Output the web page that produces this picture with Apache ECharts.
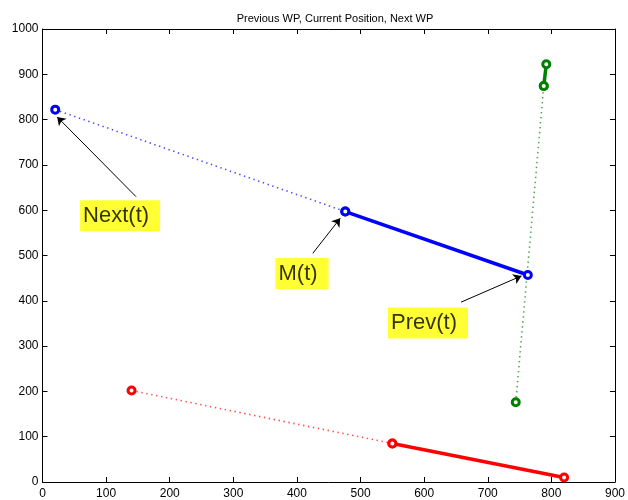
<!DOCTYPE html>
<html><head><meta charset="utf-8">
<script src="https://cdn.jsdelivr.net/npm/echarts@6/dist/echarts.min.js"></script>
<style>html,body{margin:0;padding:0;background:#fff}#c{width:628px;height:500px}</style>
</head><body><div id="c"></div>
<script>
// Points ordered [next, current, previous]
const bluePts = [[20, 822], [476, 597], [763, 457]];
const redPts = [[140, 202], [550, 85], [820, 10]];
const greenPts = [[744, 176], [788, 874], [792, 922]];
// annotations
const arrowFrom = [[147, 630], [425, 505], [658, 397]];
const arrowTo = [[23, 806], [468, 582], [753, 455]];
const labelText = ['Next(t)', 'M(t)', 'Prev(t)'];
const labelAt = [[122, 588], [408, 460], [606, 351]];
const titleText = 'Previous WP, Current Position, Next WP';

const FONT = 'Liberation Sans, Arial, sans-serif';
const chart = echarts.init(document.getElementById('c'), null, {renderer: 'canvas'});

function pairSeries(pts, color) {
  const marker = {symbol: 'circle', symbolSize: 7, itemStyle: {color: '#fff', borderColor: color, borderWidth: 3}};
  return [
    Object.assign({type: 'line', data: [pts[0], pts[1]], lineStyle: {color: color, width: 1.6, type: [1.4, 3.6], opacity: 0.7}, z: 3, animation: false}, marker),
    Object.assign({type: 'line', data: [pts[1], pts[2]], lineStyle: {color: color, width: 3.5}, z: 4, animation: false}, marker)
  ];
}

const axisCommon = {
  min: 0, interval: 100,
  axisLine: {show: true, onZero: false, lineStyle: {color: '#000', width: 1}},
  axisTick: {show: true, inside: true, length: 5, lineStyle: {color: '#000'}},
  splitLine: {show: false},
  axisLabel: {color: '#000', fontSize: 12, fontFamily: FONT, formatter: (v) => String(v)}
};

const option = {
  animation: false,
  backgroundColor: '#fff',
  title: {text: titleText, left: 330, top: 8, textAlign: 'center',
    textStyle: {fontSize: 11, fontWeight: 'normal', color: '#000', fontFamily: FONT}},
  grid: {left: 42.5, right: 11, top: 29, bottom: 18, containLabel: false},
  xAxis: [
    Object.assign({}, axisCommon, {type: 'value', max: 900, position: 'bottom', axisLabel: Object.assign({}, axisCommon.axisLabel, {margin: 6})}),
    Object.assign({}, axisCommon, {type: 'value', max: 900, position: 'top', axisLabel: {show: false}})
  ],
  yAxis: [
    Object.assign({}, axisCommon, {type: 'value', max: 1000, position: 'left', axisLabel: Object.assign({}, axisCommon.axisLabel, {margin: 4})}),
    Object.assign({}, axisCommon, {type: 'value', max: 1000, position: 'right', axisLabel: {show: false}})
  ],
  series: [
    ...pairSeries(redPts, '#ff0000'),
    ...pairSeries(bluePts, '#0000ff'),
    ...pairSeries(greenPts, '#008000'),
    {
      type: 'lines', coordinateSystem: 'cartesian2d', z: 5,
      symbol: ['none', 'arrow'], symbolSize: 8,
      lineStyle: {color: '#000', width: 1, opacity: 1},
      data: arrowFrom.map((f, i) => ({coords: [f, arrowTo[i]]}))
    },
    {
      type: 'scatter', z: 6, symbolSize: 1,
      itemStyle: {color: 'transparent'},
      data: labelAt.map((p, i) => ({value: p, name: labelText[i]})),
      label: {show: true, position: 'inside', formatter: (p) => p.name,
        fontSize: 22, fontFamily: FONT, color: '#000', lineHeight: 24,
        backgroundColor: '#ffff00', padding: [4, 11, 3, 3]}
    }
  ]
};
chart.setOption(option);
</script></body></html>
